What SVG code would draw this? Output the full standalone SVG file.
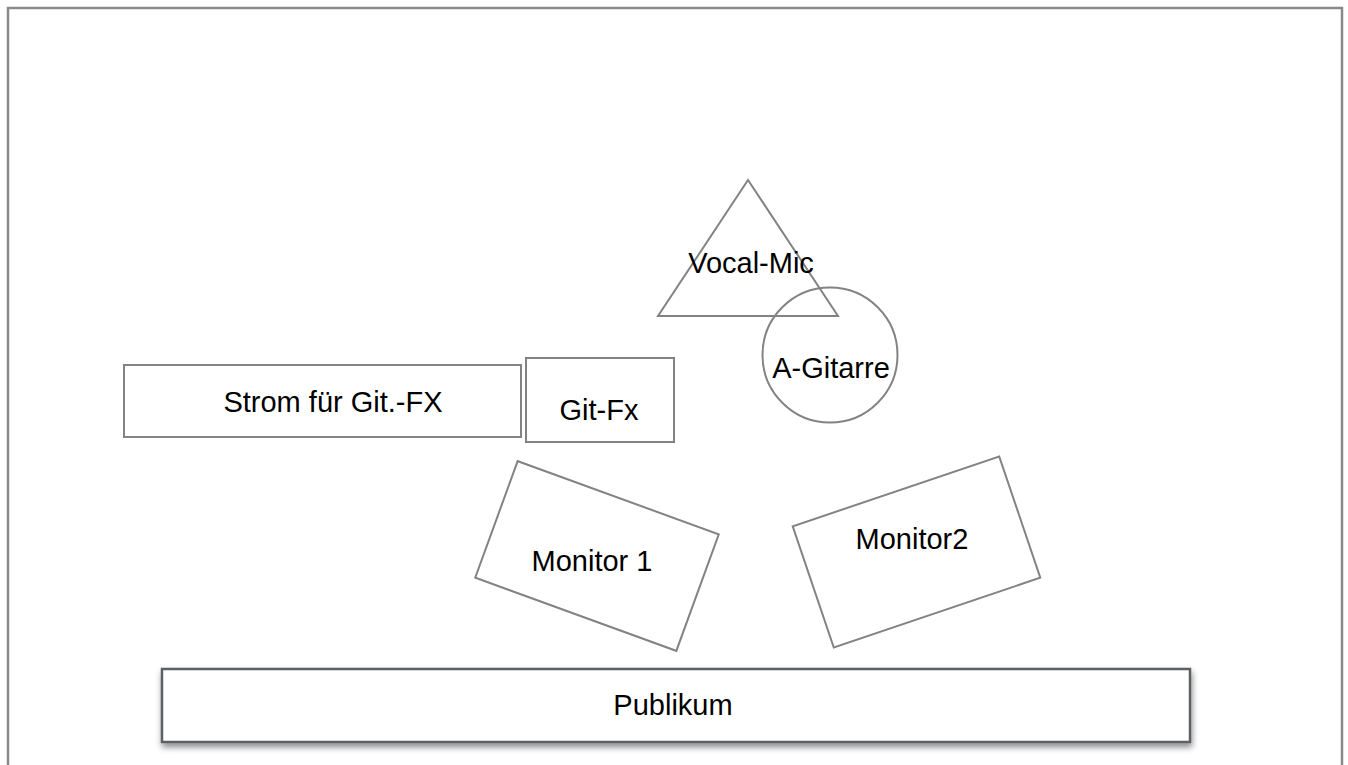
<svg xmlns="http://www.w3.org/2000/svg" width="1348" height="765" viewBox="0 0 1348 765">
<defs>
<style>
.s{fill:#fff;stroke:#838383;stroke-width:2}
.t{font-family:"Liberation Sans",Arial,Helvetica,sans-serif;font-size:29px;fill:#000;text-anchor:middle}
.pub{fill:#fff;stroke:#5b5f66;stroke-width:2.5}
</style>
<filter id="sh" x="-5%" y="-30%" width="110%" height="170%">
<feDropShadow dx="1" dy="4" stdDeviation="3" flood-color="#000" flood-opacity="0.45"/>
</filter>
</defs>
<rect width="1348" height="765" fill="#fff"/>
<path d="M8,770 V8 H1342 V770" fill="none" stroke="#8a8a8a" stroke-width="2.5"/>
<g id="vocal-mic">
<polygon class="s" points="748,180 658,316 838,316" style="fill:none"/>
<text class="t" x="751" y="273">Vocal-Mic</text>
</g>
<g id="a-gitarre">
<circle class="s" cx="830" cy="355" r="67.5" style="fill:none"/>
<text class="t" x="831" y="378">A-Gitarre</text>
</g>
<g id="strom">
<rect class="s" x="124" y="365" width="397" height="72"/>
<text class="t" x="333" y="412">Strom für Git.-FX</text>
</g>
<g id="git-fx">
<rect class="s" x="526" y="358" width="148" height="84"/>
<text class="t" x="599" y="420">Git-Fx</text>
</g>
<g id="monitor1">
<rect class="s" x="-107" y="-62" width="214" height="124" transform="translate(597,556) rotate(20)"/>
<text class="t" x="592" y="571">Monitor 1</text>
</g>
<g id="monitor2">
<rect class="s" x="-109" y="-64" width="218" height="128" transform="translate(916.5,552) rotate(-18.7)"/>
<text class="t" x="912" y="549">Monitor2</text>
</g>
<g id="publikum">
<rect class="pub" x="162" y="669" width="1028" height="73" filter="url(#sh)"/>
<text class="t" x="673" y="715">Publikum</text>
</g>
<g id="connectors"/>
</svg>
